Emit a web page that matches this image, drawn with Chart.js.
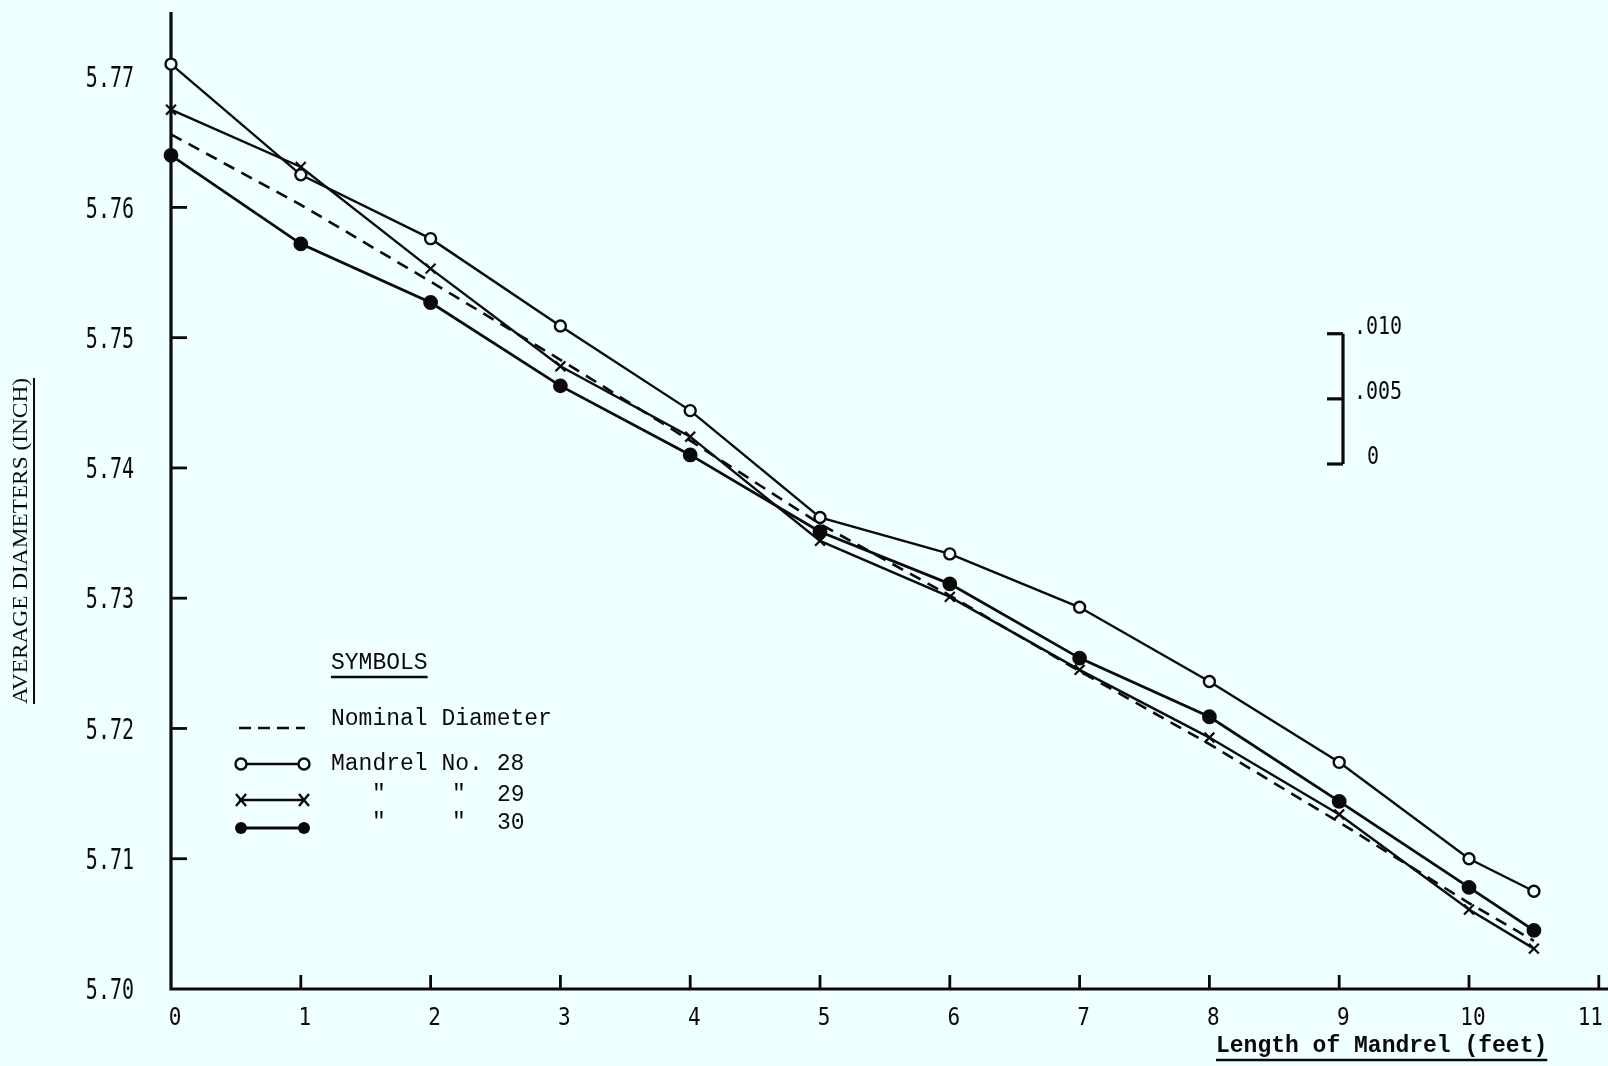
<!DOCTYPE html>
<html>
<head>
<meta charset="utf-8">
<script src="https://cdn.jsdelivr.net/npm/chart.js@4.4.0/dist/chart.umd.min.js"></script>
<style>
  html, body { margin: 0; padding: 0; background: #f0ffff; }
  canvas { display: block; }
</style>
</head>
<body>
<canvas id="chart" width="1608" height="1066"></canvas>
<script>
// length along mandrel (feet)
var xFeet = [0, 1, 2, 3, 4, 5, 6, 7, 8, 9, 10, 10.5];
// average diameters (inch)
var nominal   = [5.7656, 5.7602, 5.7543, 5.7483, 5.7421, 5.7357, 5.7302, 5.7244, 5.7188, 5.7128, 5.7066, 5.7037];
var mandrel28 = [5.7710, 5.7625, 5.7576, 5.7509, 5.7444, 5.7362, 5.7334, 5.7293, 5.7236, 5.7174, 5.7100, 5.7075];
var mandrel29 = [5.7675, 5.7631, 5.7553, 5.7478, 5.7424, 5.7344, 5.7301, 5.7245, 5.7193, 5.7134, 5.7061, 5.7031];
var mandrel30 = [5.7640, 5.7572, 5.7527, 5.7463, 5.7410, 5.7351, 5.7311, 5.7254, 5.7209, 5.7144, 5.7078, 5.7045];

var yTicks = [5.70, 5.71, 5.72, 5.73, 5.74, 5.75, 5.76, 5.77];
var yTickLabels = ['5.70', '5.71', '5.72', '5.73', '5.74', '5.75', '5.76', '5.77'];
var xTicks = [0, 1, 2, 3, 4, 5, 6, 7, 8, 9, 10, 11];
var scaleBarValues = [0.010, 0.005, 0];
var scaleBarLabels = ['.010', '.005', '0'];

var BG = '#f0ffff';
var INK = '#0a0a0a';
var MONO = '"Liberation Mono", "DejaVu Sans Mono", monospace';
var SANSMONO = '"DejaVu Sans Mono", "Liberation Mono", monospace';
var SERIF = '"Liberation Serif", "DejaVu Serif", serif';

function pts(vals) {
    return vals.map(function (v, i) { return { x: xFeet[i], y: v }; });
}

// text stretched vertically, typewriter style
function tallText(ctx, txt, x, y, sy) {
    ctx.save();
    ctx.translate(x, y);
    ctx.scale(1, sy);
    ctx.fillText(txt, 0, 0);
    ctx.restore();
}

function drawMarker(ctx, kind, x, y) {
    ctx.save();
    ctx.strokeStyle = INK;
    ctx.lineWidth = 2.4;
    if (kind === 'open') {
        ctx.fillStyle = BG;
        ctx.beginPath(); ctx.arc(x, y, 5.5, 0, Math.PI * 2); ctx.fill(); ctx.stroke();
    } else if (kind === 'filled') {
        ctx.fillStyle = INK;
        ctx.beginPath(); ctx.arc(x, y, 6, 0, Math.PI * 2); ctx.fill();
    } else if (kind === 'cross') {
        ctx.beginPath();
        ctx.moveTo(x - 5, y - 6); ctx.lineTo(x + 5, y + 6);
        ctx.moveTo(x + 5, y - 6); ctx.lineTo(x - 5, y + 6);
        ctx.stroke();
    }
    ctx.restore();
}

var paperPlugin = {
    id: 'paper',
    beforeDraw: function (chart) {
        var ctx = chart.ctx;
        ctx.save();
        ctx.fillStyle = BG;
        ctx.fillRect(0, 0, chart.width, chart.height);
        ctx.restore();
    },
    beforeDatasetsDraw: function (chart) {
        var ctx = chart.ctx, a = chart.chartArea;
        var xs = chart.scales.x, ys = chart.scales.y;
        ctx.save();
        ctx.strokeStyle = INK;
        ctx.lineWidth = 3.2;
        // axes
        ctx.beginPath();
        ctx.moveTo(a.left, a.top);
        ctx.lineTo(a.left, a.bottom);
        ctx.lineTo(chart.width, a.bottom);
        ctx.stroke();
        // tick marks, pointing into the plot
        ctx.lineWidth = 2.8;
        yTicks.forEach(function (v, i) {
            if (i === 0 || i === yTicks.length - 1) return;
            var py = ys.getPixelForValue(v);
            ctx.beginPath(); ctx.moveTo(a.left, py); ctx.lineTo(a.left + 16, py); ctx.stroke();
        });
        xTicks.forEach(function (v, i) {
            if (i === 0) return;
            var px = xs.getPixelForValue(v);
            ctx.beginPath(); ctx.moveTo(px, a.bottom); ctx.lineTo(px, a.bottom - 14); ctx.stroke();
        });
        ctx.restore();
    },
    afterDraw: function (chart) {
        var ctx = chart.ctx, a = chart.chartArea;
        var xs = chart.scales.x, ys = chart.scales.y;
        ctx.save();
        ctx.fillStyle = INK;
        ctx.strokeStyle = INK;

        // y tick labels
        ctx.font = '20px ' + SANSMONO;
        ctx.textAlign = 'right';
        ctx.textBaseline = 'middle';
        yTicks.forEach(function (v, i) {
            tallText(ctx, yTickLabels[i], 134, ys.getPixelForValue(v) + 3, 1.38);
        });

        // x tick labels
        ctx.font = '21px ' + SANSMONO;
        ctx.textBaseline = 'middle';
        xTicks.forEach(function (v) {
            var px = xs.getPixelForValue(v);
            if (px + 14 > chart.width) {
                ctx.textAlign = 'right';
                tallText(ctx, String(v), chart.width - 5, a.bottom + 30, 1.15);
            } else {
                ctx.textAlign = 'center';
                tallText(ctx, String(v), px + 4, a.bottom + 30, 1.15);
            }
        });

        // y title (serif capitals, underlined)
        ctx.save();
        ctx.translate(21, 541);
        ctx.rotate(-Math.PI / 2);
        ctx.font = '21px ' + SERIF;
        ctx.textAlign = 'center';
        ctx.textBaseline = 'middle';
        var yTitle = 'AVERAGE DIAMETERS (INCH)';
        var target = 326;
        var yw = ctx.measureText(yTitle).width;
        ctx.save();
        ctx.scale(target / yw, 1);
        ctx.fillText(yTitle, 0, 0);
        ctx.restore();
        ctx.lineWidth = 2;
        ctx.beginPath(); ctx.moveTo(-target / 2, 13); ctx.lineTo(target / 2, 13); ctx.stroke();
        ctx.restore();

        // x title
        ctx.font = 'bold 23px ' + MONO;
        ctx.textAlign = 'left';
        ctx.textBaseline = 'middle';
        var xTitle = 'Length of Mandrel (feet)';
        ctx.fillText(xTitle, 1216, 1046);
        var xw = ctx.measureText(xTitle).width;
        ctx.lineWidth = 2.4;
        ctx.beginPath(); ctx.moveTo(1216, 1060); ctx.lineTo(1216 + xw, 1060); ctx.stroke();

        // legend
        ctx.font = '23px ' + MONO;
        ctx.textAlign = 'left';
        ctx.fillText('SYMBOLS', 331, 663);
        var sw = ctx.measureText('SYMBOLS').width;
        ctx.lineWidth = 2.4;
        ctx.beginPath(); ctx.moveTo(331, 677); ctx.lineTo(331 + sw, 677); ctx.stroke();

        var rows = [
            { ty: 719, ly: 728, kind: null, dash: [12, 7], text: 'Nominal Diameter' },
            { ty: 764, ly: 764, kind: 'open', text: 'Mandrel No. 28' },
            { ty: 795, ly: 800, kind: 'cross', ditto: '29' },
            { ty: 823, ly: 828, kind: 'filled', ditto: '30' }
        ];
        rows.forEach(function (r) {
            ctx.save();
            ctx.lineWidth = r.kind === 'filled' ? 3.2 : 2.4;
            if (r.dash) ctx.setLineDash(r.dash);
            ctx.beginPath(); ctx.moveTo(239, r.ly); ctx.lineTo(305, r.ly); ctx.stroke();
            ctx.restore();
            if (r.kind) {
                drawMarker(ctx, r.kind, 241, r.ly);
                drawMarker(ctx, r.kind, 304, r.ly);
            }
            if (r.text) {
                ctx.fillText(r.text, 331, r.ty);
            } else {
                ctx.fillText('"', 372, r.ty);
                ctx.fillText('"', 452, r.ty);
                ctx.fillText(r.ditto, 497, r.ty);
            }
        });

        // scale bar, same units as the y axis
        var unit = ys.getPixelForValue(5.70) - ys.getPixelForValue(5.71);
        var barX = 1343, barBottom = 464;
        ctx.lineWidth = 3.2;
        var topY = barBottom - unit * (scaleBarValues[0] / 0.01);
        ctx.beginPath(); ctx.moveTo(barX, topY); ctx.lineTo(barX, barBottom); ctx.stroke();
        ctx.font = '20px ' + SANSMONO;
        scaleBarValues.forEach(function (v, i) {
            var py = barBottom - unit * (v / 0.01);
            ctx.beginPath(); ctx.moveTo(barX - 16, py); ctx.lineTo(barX, py); ctx.stroke();
            tallText(ctx, scaleBarLabels[i], v === 0 ? 1367 : 1354, py - 6, 1.2);
        });

        ctx.restore();
    }
};

var config = {
    type: 'line',
    data: {
        datasets: [{
            label: 'Nominal Diameter',
            data: pts(nominal),
            borderColor: INK,
            borderWidth: 2.6,
            borderDash: [12, 8],
            pointRadius: 0,
            tension: 0,
            clip: false
        }, {
            label: 'Mandrel No. 28',
            data: pts(mandrel28),
            borderColor: INK,
            borderWidth: 2.4,
            pointStyle: 'circle',
            pointRadius: 5.5,
            pointBorderWidth: 2.4,
            pointBackgroundColor: BG,
            pointBorderColor: INK,
            tension: 0,
            clip: false
        }, {
            label: 'Mandrel No. 29',
            data: pts(mandrel29),
            borderColor: INK,
            borderWidth: 2.4,
            pointStyle: 'crossRot',
            pointRadius: 7,
            pointBorderWidth: 2.2,
            pointBorderColor: INK,
            tension: 0,
            clip: false
        }, {
            label: 'Mandrel No. 30',
            data: pts(mandrel30),
            borderColor: INK,
            borderWidth: 2.8,
            pointStyle: 'circle',
            pointRadius: 6,
            pointBackgroundColor: INK,
            pointBorderColor: INK,
            tension: 0,
            clip: false
        }]
    },
    options: {
        responsive: false,
        animation: false,
        events: [],
        layout: { padding: { left: 171, right: 1.5, top: 12, bottom: 77 } },
        scales: {
            x: { type: 'linear', min: 0, max: 11, display: false },
            y: { type: 'linear', min: 5.70, max: 5.775, display: false }
        },
        plugins: {
            legend: { display: false },
            tooltip: { enabled: false }
        }
    },
    plugins: [paperPlugin]
};

new Chart(document.getElementById('chart').getContext('2d'), config);
</script>
</body>
</html>
